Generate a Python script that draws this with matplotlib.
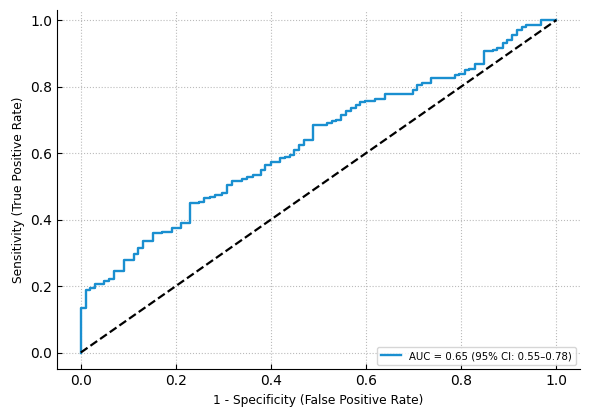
import matplotlib
matplotlib.use("Agg")
import matplotlib.pyplot as plt

# ROC curve points (false positive rate, true positive rate)
fpr = [0.0, 0.0, 0.0105, 0.019, 0.029, 0.049, 0.059, 0.070, 0.090, 0.111, 0.120,
       0.131, 0.151, 0.171, 0.191, 0.210, 0.230, 0.248, 0.259, 0.271, 0.283,
       0.296, 0.307, 0.318, 0.338, 0.350, 0.362, 0.378, 0.388, 0.399, 0.418,
       0.429, 0.439, 0.448, 0.459, 0.469, 0.489, 0.518, 0.528, 0.537, 0.548,
       0.558, 0.569, 0.579, 0.588, 0.598, 0.618, 0.639, 0.698, 0.707, 0.717,
       0.737, 0.787, 0.796, 0.808, 0.817, 0.828, 0.847, 0.866, 0.876, 0.887,
       0.896, 0.907, 0.917, 0.927, 0.936, 0.968, 1.0]
tpr = [0.0, 0.135, 0.188, 0.195, 0.206, 0.214, 0.221, 0.246, 0.278, 0.296, 0.313,
       0.336, 0.360, 0.363, 0.375, 0.390, 0.449, 0.454, 0.464, 0.468, 0.474,
       0.479, 0.504, 0.517, 0.522, 0.529, 0.534, 0.549, 0.564, 0.574, 0.584,
       0.589, 0.594, 0.609, 0.624, 0.639, 0.684, 0.691, 0.696, 0.699, 0.714,
       0.727, 0.736, 0.744, 0.752, 0.757, 0.761, 0.779, 0.791, 0.804, 0.812,
       0.827, 0.834, 0.839, 0.849, 0.854, 0.869, 0.907, 0.911, 0.916, 0.932,
       0.941, 0.954, 0.971, 0.979, 0.984, 1.0, 1.0]
auc_label = "AUC = 0.65 (95% CI: 0.55\u20130.78)"

fig = plt.figure(figsize=(6, 4.19), dpi=100)
ax = fig.add_axes([0.095, 0.119, 0.872, 0.857])

ax.plot(fpr, tpr, drawstyle="steps-post", color="#1a8fd0", lw=1.7, label=auc_label)
ax.plot([0, 1], [0, 1], color="black", ls="--", lw=1.6)

ax.set_xlim(-0.05, 1.05)
ax.set_ylim(-0.05, 1.03)
ax.set_xticks([0.0, 0.2, 0.4, 0.6, 0.8, 1.0])
ax.set_yticks([0.0, 0.2, 0.4, 0.6, 0.8, 1.0])
ax.tick_params(direction="in", labelsize=10)
ax.grid(True, ls=":", color="#bbbbbb", lw=0.8)
ax.spines["top"].set_visible(False)
ax.spines["right"].set_visible(False)

ax.set_xlabel("1 - Specificity (False Positive Rate)", fontsize=8.8)
ax.set_ylabel("Sensitivity (True Positive Rate)", fontsize=8.8)
ax.legend(loc="lower right", fontsize=7.3, borderaxespad=0.4)

fig.savefig("out.png")
